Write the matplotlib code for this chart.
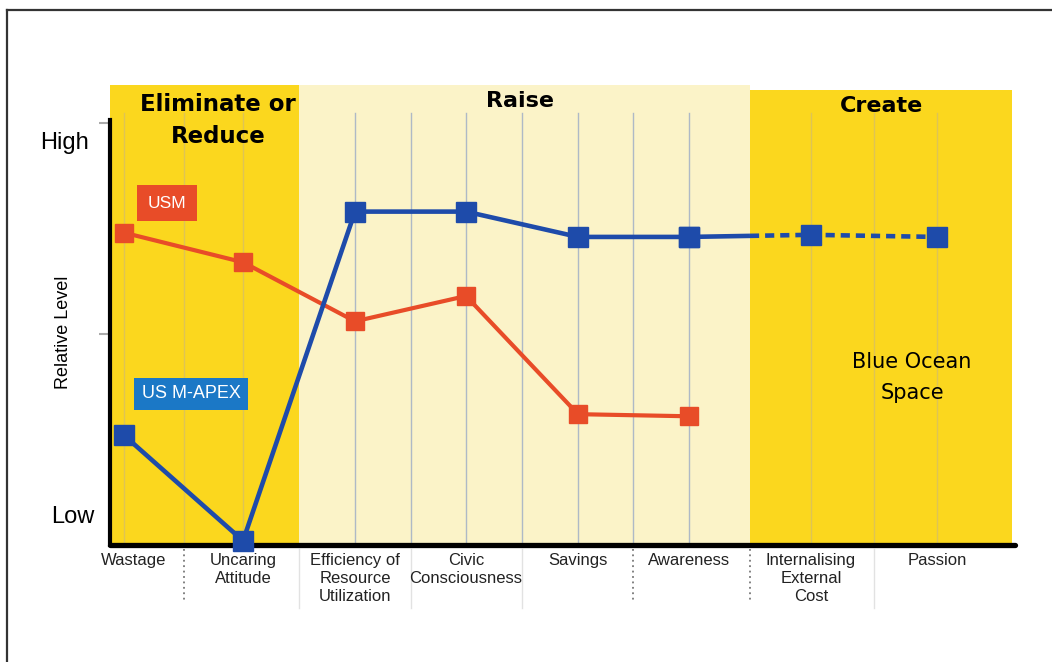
import numpy as np
import matplotlib
matplotlib.use("Agg")
import matplotlib.pyplot as plt
import matplotlib.transforms as mtransforms
from matplotlib.lines import Line2D

# categories and values (0 = Low, 10 = High)
categories = ["Wastage", "Uncaring\nAttitude", "Efficiency of\nResource\nUtilization",
              "Civic\nConsciousness", "Savings", "Awareness",
              "Internalising\nExternal\nCost", "Passion"]
usm = [7.4, 6.7, 5.3, 5.9, 3.1, 3.05]
apex = [2.6, 0.1, 7.9, 7.9, 7.3, 7.3, 7.35, 7.3]

# layout (slot positions of the categories on the x axis)
xpos = np.array([0, 1.025, 1.989, 2.945, 3.909, 4.865, 5.915, 7.0])
mids = (xpos[:-1] + xpos[1:]) / 2

dark_y = "#FBD71E"
light_y = "#FBF3C8"
red = "#E84C28"
blue = "#1E4BAA"
box_blue = "#1B78C6"

fig = plt.figure(figsize=(10.52, 6.62), dpi=100)
ax = fig.add_axes([110 / 1052, 1 - 545 / 662, 905 / 1052, 460 / 662])
ax.set_xlim(-0.1205, 7.672)
ax.set_ylim(0, 10.9)
ax.set_facecolor("white")

# section bands
ax.axvspan(-0.1205, mids[1], color=dark_y, zorder=0, lw=0)
ax.axvspan(mids[1], mids[5], color=light_y, zorder=0, lw=0)
ax.axvspan(mids[5], 7.646, ymax=10.78 / 10.9, color=dark_y, zorder=0, lw=0)

# vertical grid lines
grid_x = sorted(list(xpos) + [m for i, m in enumerate(mids) if i not in (1, 5)])
for gx in grid_x:
    inside_light = mids[1] < gx < mids[5]
    ax.plot([gx, gx], [0, 10.24], color="#AEB9C6" if inside_light else "#DEC455",
            lw=1.0, zorder=1)

# separators below the axis
for i, m in enumerate(mids):
    if i in (0, 4, 5):
        ax.plot([m, m], [-0.1, -1.35], color="#777777", lw=1.3,
                ls=(0, (1, 2)), clip_on=False, zorder=1)
    else:
        ax.plot([m, m], [-0.1, -1.5], color="#E2E2E2", lw=1.0,
                clip_on=False, zorder=1)

# lines
ax.plot(xpos[:len(usm)], usm, color=red, lw=3, marker="s", markersize=13.5,
        zorder=5, clip_on=False)
ax.plot(xpos[:6], apex[:6], color=blue, lw=3.3, marker="s", markersize=14,
        zorder=6, clip_on=False)
edge_y = np.interp(mids[5], xpos[5:7], apex[5:7])
ax.plot([xpos[5], mids[5]], [apex[5], edge_y], color=blue, lw=3.3, zorder=6,
        solid_capstyle="butt")
ax.plot([mids[5], xpos[6], xpos[7]], [edge_y, apex[6], apex[7]], color=blue,
        lw=3.3, ls=(0, (2, 1.3)), zorder=6)
ax.plot(xpos[5:], apex[5:], color=blue, lw=0, marker="s", markersize=14,
        zorder=7, clip_on=False)

# axes styling
for s in ["top", "right"]:
    ax.spines[s].set_visible(False)
ax.spines["left"].set_linewidth(3)
ax.spines["left"].set_bounds(0, 10.07)
ax.spines["bottom"].set_linewidth(3.8)
ax.spines["bottom"].set_capstyle("round")
ax.spines["left"].set_zorder(4)
ax.spines["bottom"].set_zorder(4)
ax.set_yticks([5, 10])
ax.set_yticklabels([])
ax.tick_params(axis="y", length=8, width=1.5, color="#AAAAAA", direction="out")
ax.set_xticks(xpos)
ax.set_xticklabels(categories, fontsize=12, family="Liberation Sans",
                   linespacing=1.25, color="#222222")
ax.tick_params(axis="x", length=0, pad=6)
# first label sits a little right of its point
lab0 = ax.get_xticklabels()[0]
lab0.set_transform(lab0.get_transform() +
                   mtransforms.ScaledTranslation(0.1, 0, fig.dpi_scale_trans))

# axis texts
ax.text(-0.508, 9.53, "High", fontsize=17, family="Liberation Sans",
        ha="center", va="center", clip_on=False)
ax.text(-0.44, 0.66, "Low", fontsize=17, family="Liberation Sans",
        ha="center", va="center", clip_on=False)
ax.text(-0.525, 5.05, "Relative Level", fontsize=13, family="Liberation Sans",
        rotation=90, ha="center", va="center", clip_on=False)

# section titles
ax.text(0.81, 10.43, "Eliminate or", fontsize=16.5, fontweight="bold",
        ha="center", va="center")
ax.text(0.81, 9.67, "Reduce", fontsize=16.5, fontweight="bold",
        ha="center", va="center")
ax.text(3.41, 10.52, "Raise", fontsize=16, fontweight="bold",
        ha="center", va="center")
ax.text(6.52, 10.40, "Create", fontsize=16, fontweight="bold",
        ha="center", va="center")
ax.text(6.785, 4.34, "Blue Ocean", fontsize=15, ha="center", va="center")
ax.text(6.785, 3.60, "Space", fontsize=15, ha="center", va="center")

# series labels
ax.text(0.37, 8.10, "USM", fontsize=12.5, family="Liberation Sans",
        color="white", ha="center", va="center", zorder=8,
        bbox=dict(boxstyle="square,pad=0.6", fc=red, ec="none"))
ax.text(0.577, 3.58, "US M-APEX", fontsize=13, family="Liberation Sans",
        color="white", ha="center", va="center", zorder=8,
        bbox=dict(boxstyle="square,pad=0.42", fc=box_blue, ec="none"))

# outer frame
fig.add_artist(Line2D([7 / 1052, 7 / 1052], [0, 1 - 10 / 662],
                      color="#333333", lw=1.6))
fig.add_artist(Line2D([7 / 1052, 1], [1 - 10 / 662, 1 - 10 / 662],
                      color="#333333", lw=1.6))

fig.savefig("out.png", dpi=100)
